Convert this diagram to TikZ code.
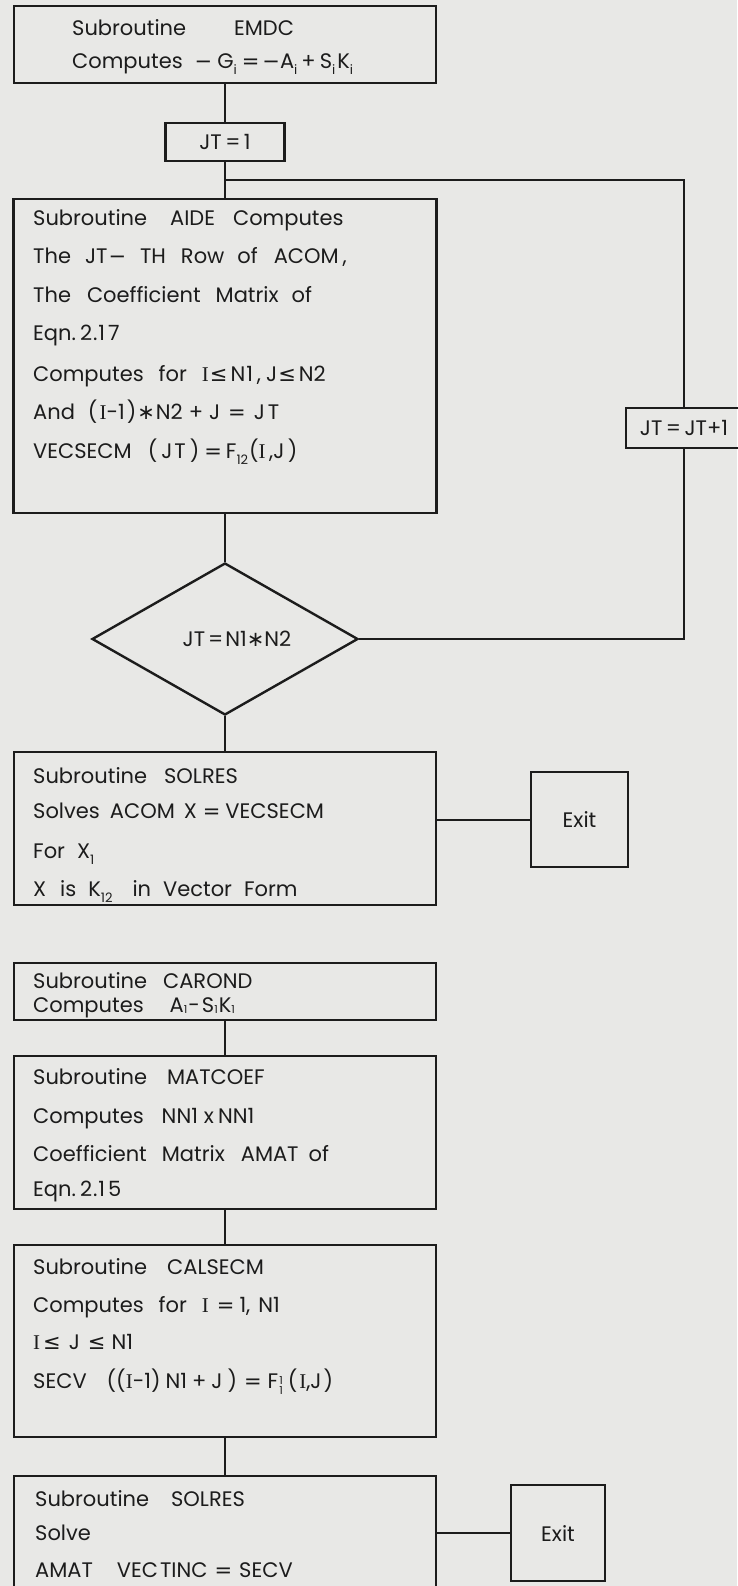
\documentclass[tikz,border=0pt]{standalone}
\usepackage{fontspec}
\setmainfont{Poppins}
\newfontfamily\symf{DejaVu Sans}
\newfontfamily\serf{Liberation Serif}
\usetikzlibrary{shapes.geometric}
\definecolor{paper}{RGB}{232,232,230}
\definecolor{ink}{RGB}{28,28,28}
\newcommand\lo[1]{\raisebox{-6pt}{\fontsize{13}{13}\selectfont #1}}
\newcommand\tinylo[1]{\raisebox{-1pt}{\fontsize{11}{11}\selectfont #1}}
\newcommand\supsub[2]{\raisebox{-6pt}{\fontsize{11}{11}\selectfont\begin{tabular}[b]{@{}l@{}}#1\\[-2pt]#2\end{tabular}}}
\newcommand\sy[1]{{\symf #1}}
\newcommand\Ii{{\serf I}}
\newcommand\tf{\fontsize{21}{24}\selectfont\spaceskip=13pt plus 2pt\relax}
\begin{document}
\begin{tikzpicture}[x=1pt,y=-1pt,
  box/.style={draw=ink,line width=2.6pt,rectangle,inner sep=0pt},
  exitbox/.style={box,font=\tf,text=ink},
  txt/.style={anchor=base west,inner sep=0pt,font=\tf,text=ink},
  link/.style={draw=ink,line width=2pt}]
\fill[paper] (0,0) rectangle (737,1586);
\useasboundingbox (0,0) rectangle (737,1586);

% boxes
\node[box,minimum width=422pt,minimum height=77pt] (emdc) at (225,44.5) {};
\node[exitbox,minimum width=119pt,minimum height=38pt] (jt1) at (225,142) {JT\,=\,1};
\node[box,minimum width=423pt,minimum height=314pt] (aide) at (225,356) {};
\node[diamond,draw=ink,line width=2.4pt,inner sep=0pt,shape aspect=1.7,
      minimum width=266pt,minimum height=152pt,font=\tf,text=ink] (dec) at (225,639)
      {\hspace*{24pt}JT\hspace{3pt}=\hspace{2pt}N1\sy{∗}N2};
\node[exitbox,minimum width=116pt,minimum height=40pt] (jtinc) at (684,428) {JT\,=\,JT+1};
\node[box,minimum width=422pt,minimum height=153pt] (sol1) at (225,828.5) {};
\node[exitbox,minimum width=97pt,minimum height=95pt] (exit1) at (579.5,819.5) {Exit};
\node[box,minimum width=422pt,minimum height=57pt] (carond) at (225,991.5) {};
\node[box,minimum width=422pt,minimum height=153pt] (matcoef) at (225,1132.5) {};
\node[box,minimum width=422pt,minimum height=192pt] (calsecm) at (225,1341) {};
\node[box,minimum width=422pt,minimum height=170pt] (sol2) at (225,1561) {};
\node[exitbox,minimum width=94pt,minimum height=96pt] (exit2) at (558,1533) {Exit};

% texts
\node[txt] (e1) at (72,36) {Subroutine\hspace{48pt}EMDC};
\node[txt] (e2) at (72,69) {Computes\hspace{12pt}\sy{−}\hspace{5pt}G\lo{i}\hspace{5pt}\sy{=}\hspace{3pt}\sy{−}A\lo{i}\hspace{4pt}+\hspace{4pt}S\lo{i}\hspace{2pt}K\lo{i}};

\node[txt] (a1) at (33,226) {Subroutine\hspace{23pt}AIDE\hspace{18pt}Computes};
\node[txt] (a2) at (33,264) {The\hspace{14pt}JT\hspace{1pt}\sy{−}\hspace{14pt}TH\hspace{15pt}Row\hspace{13pt}of\hspace{16pt}ACOM\hspace{4pt},};
\node[txt] (a3) at (33,303) {The\hspace{16pt}Coefficient\hspace{15pt}Matrix\hspace{13pt}of};
\node[txt] (a4) at (33,341) {Eqn.\hspace{4pt}2\hspace{1pt}.\hspace{1pt}1\hspace{3pt}7};
\node[txt] (a5) at (33,381) {Computes\hspace{15pt}for\hspace{15pt}\Ii\hspace{1pt}\sy{≤}\hspace{3pt}N\hspace{1pt}1\hspace{4pt},\hspace{5pt}J\hspace{1pt}\sy{≤}\hspace{3pt}N2};
\node[txt] (a6) at (33,419) {And\hspace{13pt}(\hspace{2pt}\Ii-1\hspace{2pt})\hspace{1pt}\sy{∗}\hspace{1pt}N2\hspace{6pt}+\hspace{6pt}J\hspace{8pt}\sy{=}\hspace{8pt}J\hspace{3pt}T};
\node[txt] (a7) at (33,458) {VECSECM\hspace{16pt}(\hspace{4pt}J\hspace{2pt}T\hspace{4pt})\hspace{5pt}\sy{=}\hspace{4pt}F\lo{12}\hspace{1pt}(\Ii\,,J\,)};

\node[txt] (s1) at (33,783) {Subroutine\hspace{17pt}SOLRES};
\node[txt] (s2) at (33,818) {Solves\hspace{10pt}ACOM\hspace{9pt}X\hspace{6pt}\sy{=}\hspace{5pt}VECSECM};
\node[txt] (s3) at (33,858) {For\hspace{12pt}X\lo{1}};
\node[txt] (s4) at (33,896) {X\hspace{14pt}is\hspace{12pt}K\lo{12}\hspace{20pt}in\hspace{12pt}Vector\hspace{12pt}Form};

\node[txt] (c1) at (33,988) {Subroutine\hspace{16pt}CAROND};
\node[txt] (c2) at (33,1012) {Computes\hspace{26pt}A\tinylo{1}\hspace{1pt}-\hspace{2pt}S\tinylo{1}\hspace{1pt}K\tinylo{1}};

\node[txt] (m1) at (33,1084) {Subroutine\hspace{20pt}MATCOEF};
\node[txt] (m2) at (33,1123) {Computes\hspace{18pt}NN1\hspace{6pt}x\hspace{4pt}NN1};
\node[txt] (m3) at (33,1161) {Coefficient\hspace{15pt}Matrix\hspace{16pt}AMAT\hspace{10pt}of};
\node[txt] (m4) at (33,1196) {Eqn.\hspace{4pt}2\hspace{1pt}.\hspace{1pt}1\hspace{3pt}5};

\node[txt] (k1) at (33,1274) {Subroutine\hspace{20pt}CALSECM};
\node[txt] (k2) at (33,1312) {Computes\hspace{15pt}for\hspace{15pt}\Ii\hspace{8pt}\sy{=}\hspace{5pt}1,\hspace{8pt}N1};
\node[txt] (k3) at (33,1349) {\Ii\hspace{3pt}\sy{≤}\hspace{8pt}J\hspace{8pt}\sy{≤}\hspace{6pt}N1};
\node[txt] (k4) at (33,1388) {SECV\hspace{20pt}((\Ii-1)\hspace{5pt}N1\hspace{5pt}+\hspace{5pt}J\hspace{5pt})\hspace{7pt}\sy{=}\hspace{6pt}F\hspace{1pt}\supsub{1}{1}\hspace{5pt}(\hspace{2pt}\Ii,J\hspace{2pt})};

\node[txt] (r1) at (35,1506) {Subroutine\hspace{22pt}SOLRES};
\node[txt] (r2) at (35,1540) {Solve};
\node[txt] (r3) at (35,1577) {AMAT\hspace{24pt}VEC\hspace{2pt}TINC\hspace{7pt}\sy{=}\hspace{7pt}SECV};

% connectors
\draw[link] (emdc.south) -- (jt1.north);
\draw[link] (jt1.south) -- (aide.north);
\coordinate (br) at (225,180);
\draw[link] (br) -| (jtinc.north);
\draw[link] (jtinc.south) |- (dec.east);
\draw[link] (aide.south) -- (dec.north);
\draw[link] (dec.south) -- (sol1.north);
\draw[link] (sol1.east |- exit1.west) -- (exit1.west);
\draw[link] (carond.south) -- (matcoef.north);
\draw[link] (matcoef.south) -- (calsecm.north);
\draw[link] (calsecm.south) -- (sol2.north);
\draw[link] (sol2.east |- exit2.west) -- (exit2.west);
\end{tikzpicture}
\end{document}
